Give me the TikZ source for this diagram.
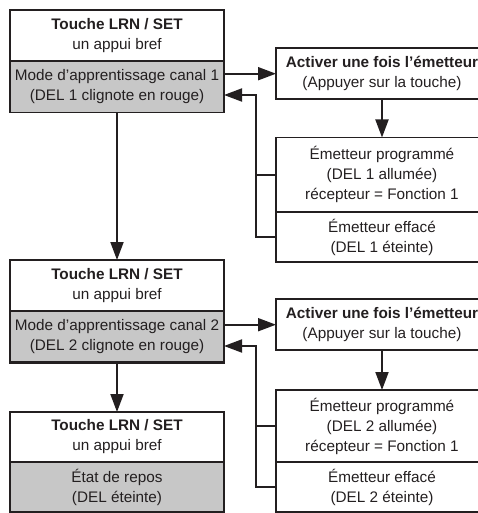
\documentclass[tikz,border=0pt]{standalone}
\usepackage{fontspec}
\setmainfont{Liberation Sans}
\usetikzlibrary{arrows.meta,calc}
\definecolor{ink}{HTML}{231F20}
\definecolor{boxgray}{RGB}{199,199,199}
\begin{document}
\begin{tikzpicture}[x=1pt,y=-1pt,
  box/.style={draw=ink,line width=1.9pt,rectangle,inner sep=0pt,outer sep=0pt,
    align=center,text=ink,font=\fontsize{15.3}{20}\selectfont},
  lbox/.style={box,minimum width=214pt},
  rbox/.style={box,minimum width=212pt},
  grayfill/.style={fill=boxgray},
  thick box/.style={line width=2.8pt},
  arr/.style={draw=ink,line width=1.9pt,-{Triangle[length=18pt,width=13pt]}},
  conn/.style={draw=ink,line width=1.9pt}]
\useasboundingbox (0,0) rectangle (478,513);
\clip (0,0) rectangle (478,513);
% left column
\node[lbox,minimum height=51pt] (b1t) at (117,35.5) {\textbf{Touche LRN / SET}\\un appui bref};
\node[lbox,grayfill,minimum height=51.5pt] (b1b) at (117,86.75) {Mode d’apprentissage canal 1\\(DEL 1 clignote en rouge)};
\node[lbox,minimum height=51pt] (b2t) at (117,285.5) {\textbf{Touche LRN / SET}\\un appui bref};
\node[lbox,grayfill,thick box,minimum height=51.5pt] (b2b) at (117,336.75) {Mode d’apprentissage canal 2\\(DEL 2 clignote en rouge)};
\node[lbox,minimum height=50pt] (b3t) at (117,437) {\textbf{Touche LRN / SET}\\un appui bref};
\node[lbox,grayfill,minimum height=50pt] (b3b) at (117,487) {État de repos\\(DEL éteinte)};
% right column
\node[rbox,minimum height=51pt] (a1) at (382,73.7) {\textbf{Activer une fois l’émetteur}\\(Appuyer sur la touche)};
\node[rbox,minimum height=74.5pt] (e1t) at (382,174.75) {Émetteur programmé\\(DEL 1 allumée)\\récepteur = Fonction 1};
\node[rbox,minimum height=50pt] (e1b) at (382,237) {Émetteur effacé\\(DEL 1 éteinte)};
\node[rbox,minimum height=51pt] (a2) at (382,324.7) {\textbf{Activer une fois l’émetteur}\\(Appuyer sur la touche)};
\node[rbox,minimum height=72pt] (e2t) at (382,426) {Émetteur programmé\\(DEL 2 allumée)\\récepteur = Fonction 1};
\node[rbox,minimum height=50pt] (e2b) at (382,487) {Émetteur effacé\\(DEL 2 éteinte)};
% connectors
\coordinate (r1) at (256,95);
\coordinate (r2) at (256,346);
\path[arr] (b1b.east |- a1.west) -- (a1.west);
\path[arr] (a1.south) -- (e1t.north);
\path[conn] (e1t.west) -- (e1t.west -| r1);
\path[arr] (e1b.west) -| (r1) -- (r1 -| b1b.east);
\path[arr] (b1b.south) -- (b2t.north);
\path[arr] (b2b.east |- a2.west) -- (a2.west);
\path[arr] (a2.south) -- (e2t.north);
\path[conn] (e2t.west) -- (e2t.west -| r2);
\path[arr] (e2b.west) -| (r2) -- (r2 -| b2b.east);
\path[arr] (b2b.south) -- (b3t.north);
\end{tikzpicture}
\end{document}
